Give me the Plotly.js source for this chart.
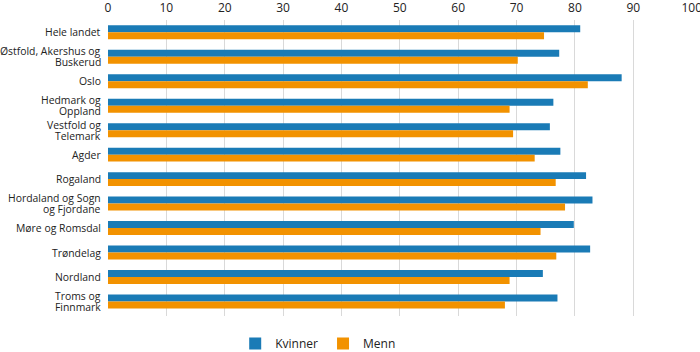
<!DOCTYPE html>
<html>
<head>
<meta charset="utf-8">
<script src="https://cdn.plot.ly/plotly-3.0.1.min.js"></script>
<style>html,body{margin:0;padding:0;background:#fff;}#chart{width:700px;height:352px;}</style>
</head>
<body>
<div id="chart"></div>
<script>
const regions = [
  "Hele landet",
  "Østfold, Akershus og<br>Buskerud",
  "Oslo",
  "Hedmark og<br>Oppland",
  "Vestfold og<br>Telemark",
  "Agder",
  "Rogaland",
  "Hordaland og Sogn<br>og Fjordane",
  "Møre og Romsdal",
  "Trøndelag",
  "Nordland",
  "Troms og<br>Finnmark"
];
const kvinner = [80.9, 77.3, 88.0, 76.3, 75.7, 77.5, 81.9, 83.0, 79.8, 82.6, 74.5, 77.0];
const menn    = [74.7, 70.2, 82.2, 68.8, 69.4, 73.1, 76.7, 78.3, 74.1, 76.8, 68.8, 68.0];
const xTicks = [0, 10, 20, 30, 40, 50, 60, 70, 80, 90, 100];

const traces = [
  {type: 'bar', orientation: 'h', name: 'Kvinner', y: regions, x: kvinner,
   marker: {color: '#1a7bb6'}, hoverinfo: 'x+name'},
  {type: 'bar', orientation: 'h', name: 'Menn', y: regions, x: menn,
   marker: {color: '#f29200'}, hoverinfo: 'x+name'}
];

// category labels drawn as right-aligned text with tight line spacing
const lineGap = 11;
const annotations = [];
regions.forEach(function (r) {
  const lines = r.split('<br>');
  const n = lines.length;
  lines.forEach(function (ln, i) {
    annotations.push({
      xref: 'paper', yref: 'y', x: 0, y: r, xanchor: 'right', yanchor: 'middle',
      xshift: -5, yshift: ((n - 1) / 2 - i) * lineGap,
      text: ln, showarrow: false,
      font: {family: '"Open Sans", sans-serif', size: 10.4, color: '#222'}
    });
  });
});

const layout = {
  width: 700, height: 352,
  margin: {l: 108, r: 8, t: 20, b: 36},
  font: {family: '"Open Sans", sans-serif', size: 11, color: '#222'},
  barmode: 'group',
  bargap: 0.43,
  bargroupgap: 0,
  paper_bgcolor: '#fff',
  plot_bgcolor: '#fff',
  showlegend: true,
  legend: {orientation: 'h', xref: 'container', yref: 'container', x: 0.336, xanchor: 'left',
           y: 0.024, yanchor: 'middle',
           font: {size: 12, color: '#222'}, itemwidth: 30, traceorder: 'normal'},
  annotations: annotations,
  xaxis: {side: 'top', range: [0, 100.05], tickvals: xTicks, ticktext: xTicks.map(String),
          showgrid: true, gridcolor: '#d9d9d9', gridwidth: 1, zeroline: false,
          showline: false, ticks: '', ticklabelstandoff: 5, ticklabeloverflow: 'allow',
          tickfont: {size: 12, color: '#222'}, fixedrange: true},
  yaxis: {autorange: 'reversed', showgrid: false, zeroline: false, showline: false,
          ticks: '', showticklabels: false, fixedrange: true}
};

Plotly.newPlot('chart', traces, layout, {displayModeBar: false, staticPlot: true});
</script>
</body>
</html>
